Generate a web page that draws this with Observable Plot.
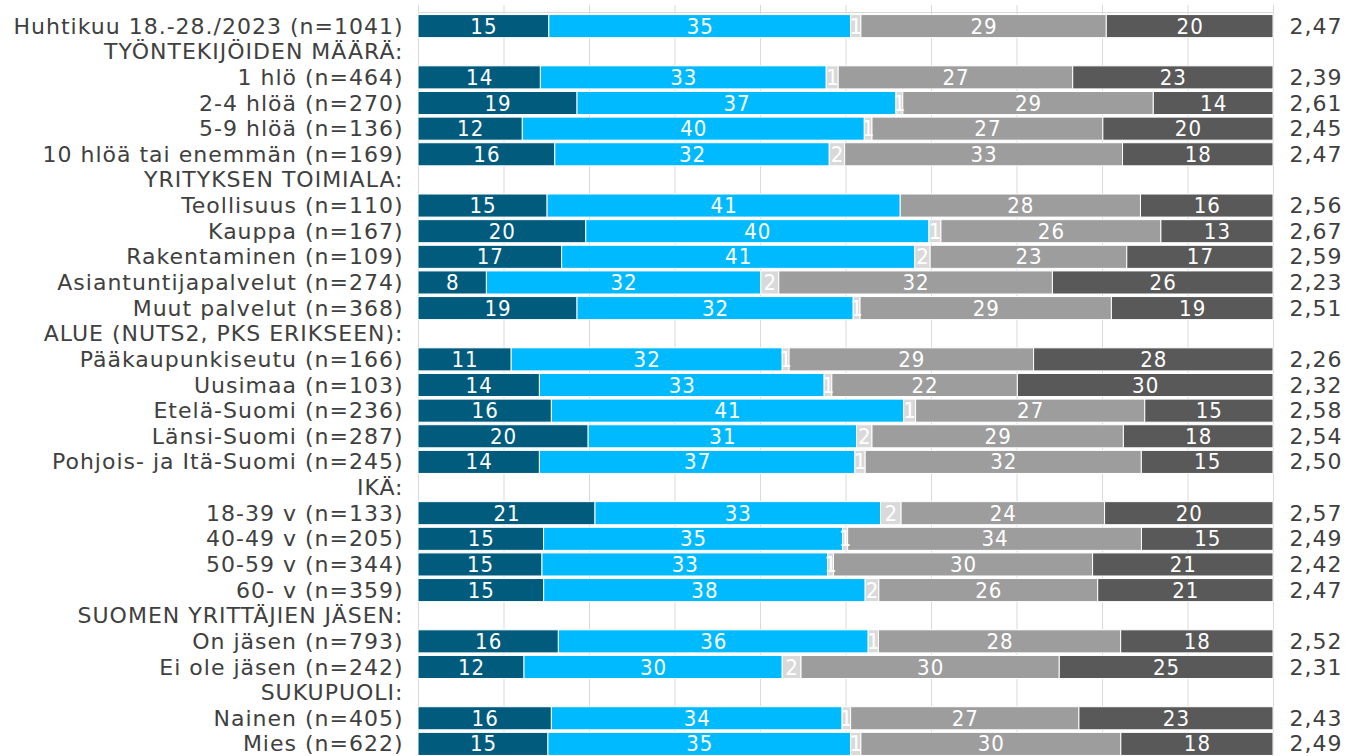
<!DOCTYPE html>
<html>
<head>
<meta charset="utf-8">
<script src="https://cdn.jsdelivr.net/npm/d3@7"></script>
<script src="https://cdn.jsdelivr.net/npm/@observablehq/plot@0.6"></script>
<style>
  html, body { margin: 0; padding: 0; background: #fff; overflow: hidden; }
</style>
</head>
<body>
<div id="chart"></div>
<script>
// Row labels (group headers have no values)
const categories = [
  "Huhtikuu 18.-28./2023 (n=1041)",
  "TYÖNTEKIJÖIDEN MÄÄRÄ:",
  "1 hlö (n=464)",
  "2-4 hlöä (n=270)",
  "5-9 hlöä (n=136)",
  "10 hlöä tai enemmän (n=169)",
  "YRITYKSEN TOIMIALA:",
  "Teollisuus (n=110)",
  "Kauppa (n=167)",
  "Rakentaminen (n=109)",
  "Asiantuntijapalvelut (n=274)",
  "Muut palvelut (n=368)",
  "ALUE (NUTS2, PKS ERIKSEEN):",
  "Pääkaupunkiseutu (n=166)",
  "Uusimaa (n=103)",
  "Etelä-Suomi (n=236)",
  "Länsi-Suomi (n=287)",
  "Pohjois- ja Itä-Suomi (n=245)",
  "IKÄ:",
  "18-39 v (n=133)",
  "40-49 v (n=205)",
  "50-59 v (n=344)",
  "60- v (n=359)",
  "SUOMEN YRITTÄJIEN JÄSEN:",
  "On jäsen (n=793)",
  "Ei ole jäsen (n=242)",
  "SUKUPUOLI:",
  "Nainen (n=405)",
  "Mies (n=622)"
];

// Series shares (%), null = header row
const s1 = [15.3, null, 14.3, 18.6, 12.2, 16.0, null, 15.1, 19.6, 16.8, 8.0, 18.6, null, 10.9, 14.2, 15.6, 19.9, 14.2, null, 20.7, 14.7, 14.5, 14.7, null, 16.4, 12.4, null, 15.6, 15.2];
const s2 = [35.3, null, 33.4, 37.3, 40.0, 32.1, null, 41.3, 40.1, 41.3, 32.1, 32.3, null, 31.7, 33.3, 41.2, 31.4, 36.9, null, 33.4, 35.0, 33.4, 37.6, null, 36.2, 30.2, null, 34.0, 35.4];
const s3 = [1.2, null, 1.4, 0.8, 0.9, 1.8, null, 0, 1.4, 1.8, 2.1, 0.8, null, 0.8, 0.9, 1.4, 1.8, 1.2, null, 2.4, 0.6, 0.7, 1.6, null, 1.2, 2.2, null, 1.0, 1.2];
const s4 = [28.7, null, 27.4, 29.3, 27.0, 32.5, null, 28.1, 25.7, 23.0, 32.0, 29.4, null, 28.6, 21.7, 26.8, 29.4, 32.3, null, 23.8, 34.4, 30.3, 25.6, null, 28.3, 30.2, null, 26.7, 30.4];
const s5 = [19.5, null, 23.4, 14.0, 19.9, 17.6, null, 15.5, 13.1, 17.1, 25.8, 18.9, null, 28.0, 29.9, 15.0, 17.5, 15.4, null, 19.7, 15.4, 21.1, 20.5, null, 17.8, 25.0, null, 22.7, 17.8];

// Mean values shown at the right
const means = ["2,47", null, "2,39", "2,61", "2,45", "2,47", null, "2,56", "2,67", "2,59", "2,23", "2,51", null, "2,26", "2,32", "2,58", "2,54", "2,50", null, "2,57", "2,49", "2,42", "2,47", null, "2,52", "2,31", null, "2,43", "2,49"];

const seriesKeys = ["s1", "s2", "s3", "s4", "s5"];
const seriesColors = ["#005b7d", "#00baff", "#d9d9d9", "#9d9d9d", "#595959"];
const gridTicks = [0, 0.1, 0.2, 0.3, 0.4, 0.5, 0.6, 0.7, 0.8, 0.9, 1];

const seriesArrays = [s1, s2, s3, s4, s5];
const data = [];
categories.forEach((cat, i) => {
  seriesArrays.forEach((arr, k) => {
    const v = arr[i];
    if (v != null && v > 0) data.push({cat, series: seriesKeys[k], value: v});
  });
});
const meanData = categories.map((cat, i) => ({cat, mean: means[i]})).filter(d => d.mean != null);

const stackOpts = {x: "value", y: "cat", order: null, offset: "normalize"};

const chart = Plot.plot({
  width: 1347,
  height: 758,
  marginLeft: 418,
  marginRight: 74,
  marginTop: 12,
  marginBottom: 0,
  style: {fontFamily: "DejaVu Sans", fontSize: "22px", color: "#404040", background: "white", letterSpacing: "1px"},
  x: {domain: [0, 1], axis: null},
  y: {domain: categories, padding: 0.1, round: false, axis: null},
  color: {domain: seriesKeys, range: seriesColors},
  marks: [
    Plot.gridX(gridTicks, {stroke: "#d9d9d9", strokeOpacity: 1}),
    Plot.axisX({anchor: "top", ticks: gridTicks, tickFormat: () => "", tickSize: 8, stroke: "#d9d9d9", strokeOpacity: 1, label: null}),
    Plot.frame({anchor: "top", stroke: "#d9d9d9"}),
    Plot.barX(data, Plot.stackX({...stackOpts, fill: "series", stroke: "white", strokeWidth: 1})),
    Plot.text(data, Plot.stackX({...stackOpts, text: d => String(Math.round(d.value)), fill: "white",
      fontFamily: "DejaVu Sans Condensed", fontSize: 22})),
    Plot.axisY({anchor: "left", tickSize: 0, tickPadding: 15, fontSize: 22, label: null, color: "#404040"}),
    Plot.text(meanData, {x: () => 1, y: "cat", text: "mean", textAnchor: "start", dx: 16, fontSize: 22, fill: "#404040"})
  ]
});
document.getElementById("chart").appendChild(chart);
</script>
</body>
</html>
